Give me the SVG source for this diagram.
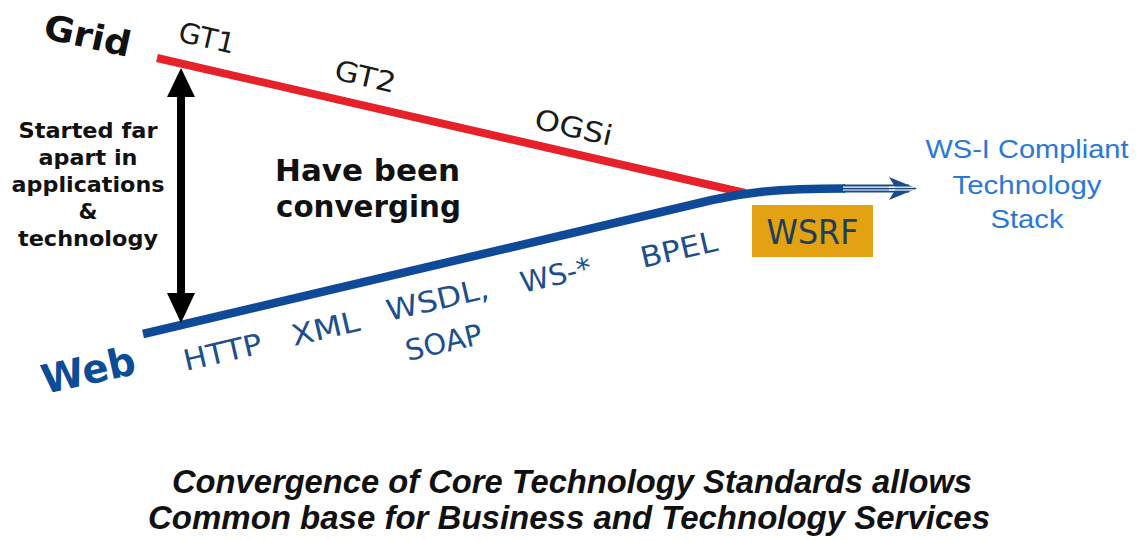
<svg xmlns="http://www.w3.org/2000/svg" width="1141" height="541" viewBox="0 0 1141 541">
  <style>
    .bold { font-family: "DejaVu Sans", Verdana, sans-serif; font-weight: bold; fill: #111; }
    .grid-lbl { font-family: "DejaVu Sans", Verdana, sans-serif; font-size: 28px; fill: #1a1a1a; }
    .web-lbl { font-family: "DejaVu Sans", Verdana, sans-serif; font-size: 29px; fill: #1d4f8c; }
    .stack { font-family: "Liberation Sans", Arial, sans-serif; font-size: 26px; fill: #2a78d6; text-anchor: middle; }
    .caption { font-family: "Liberation Sans", Arial, sans-serif; font-size: 34px; font-weight: bold; font-style: italic; fill: #111; }
  </style>

  <rect width="1141" height="541" fill="#ffffff"/>

  <!-- the two technology tracks and the gap arrow -->
  <g id="connectors">
    <!-- Grid track -->
    <line x1="157" y1="58" x2="745" y2="193" stroke="#e62129" stroke-width="8"/>
    <!-- Web track, bending into the common stack -->
    <path d="M143,334 L712,200 C738,194 770,188.5 845,188.5" fill="none" stroke="#0f4a98" stroke-width="8.5"/>
    <!-- striped arrow toward the stack -->
    <rect x="843" y="184.5" width="66" height="8" fill="#1b4a86"/>
    <line x1="843" y1="187.2" x2="912" y2="187.2" stroke="#ffffff" stroke-width="1.2"/>
    <line x1="843" y1="190" x2="912" y2="190" stroke="#ffffff" stroke-width="1.2"/>
    <polygon points="889,177 917,188.5 889,200 896,188.5" fill="#1b4a86"/>
    <line x1="889" y1="187.2" x2="914" y2="187.2" stroke="#ffffff" stroke-width="1.2"/>
    <line x1="889" y1="190" x2="914" y2="190" stroke="#ffffff" stroke-width="1.2"/>
    <!-- double-headed gap arrow -->
    <rect x="177" y="95" width="8" height="201" fill="#000"/>
    <polygon points="181,68 195,97 167,97" fill="#000"/>
    <polygon points="181,323 195,293 167,293" fill="#000"/>
  </g>

  <g id="grid">
    <text class="bold" font-size="35" transform="translate(42,38) rotate(12.4)" textLength="88" lengthAdjust="spacingAndGlyphs">Grid</text>
  </g>

  <g id="grid-steps">
    <text class="grid-lbl" transform="translate(177,41) rotate(13)" textLength="57" lengthAdjust="spacingAndGlyphs">GT1</text>
    <text class="grid-lbl" transform="translate(333,79) rotate(13)" textLength="62" lengthAdjust="spacingAndGlyphs">GT2</text>
    <text class="grid-lbl" transform="translate(533,128) rotate(13)" textLength="79" lengthAdjust="spacingAndGlyphs">OGSi</text>
  </g>

  <g id="web">
    <text font-family="'DejaVu Sans', Verdana, sans-serif" font-weight="bold" font-size="40" fill="#0b4c97" transform="translate(45,394) rotate(-12.4)" textLength="95" lengthAdjust="spacingAndGlyphs">Web</text>
  </g>

  <g id="web-steps">
    <text class="web-lbl" transform="translate(186,371) rotate(-13)" textLength="80" lengthAdjust="spacingAndGlyphs">HTTP</text>
    <text class="web-lbl" transform="translate(294,346) rotate(-13)" textLength="69" lengthAdjust="spacingAndGlyphs">XML</text>
    <text class="web-lbl" transform="translate(389,321) rotate(-13)" textLength="104" lengthAdjust="spacingAndGlyphs">WSDL,</text>
    <text class="web-lbl" transform="translate(408,361) rotate(-13)" textLength="78" lengthAdjust="spacingAndGlyphs">SOAP</text>
    <text class="web-lbl" transform="translate(523,293) rotate(-13)" textLength="72" lengthAdjust="spacingAndGlyphs">WS-*</text>
    <text class="web-lbl" transform="translate(643,268) rotate(-13)" textLength="78" lengthAdjust="spacingAndGlyphs">BPEL</text>
  </g>

  <g id="wsrf">
    <rect x="752" y="205" width="121" height="52" fill="#e2a212"/>
    <text x="812.5" y="244" font-family="'DejaVu Sans', Verdana, sans-serif" font-size="33" fill="#1f3d5c" text-anchor="middle" textLength="92" lengthAdjust="spacingAndGlyphs">WSRF</text>
  </g>

  <g id="stack">
    <text class="stack" x="1027" y="158" textLength="203" lengthAdjust="spacingAndGlyphs">WS-I Compliant</text>
    <text class="stack" x="1027" y="194" textLength="149" lengthAdjust="spacingAndGlyphs">Technology</text>
    <text class="stack" x="1027" y="228" textLength="73" lengthAdjust="spacingAndGlyphs">Stack</text>
  </g>

  <g id="gap-note" text-anchor="middle">
    <text class="bold" font-size="21" x="88" y="138" textLength="139" lengthAdjust="spacingAndGlyphs">Started far</text>
    <text class="bold" font-size="21" x="88" y="165" textLength="99" lengthAdjust="spacingAndGlyphs">apart in</text>
    <text class="bold" font-size="21" x="88" y="192" textLength="153" lengthAdjust="spacingAndGlyphs">applications</text>
    <text class="bold" font-size="21" x="88" y="219" textLength="19" lengthAdjust="spacingAndGlyphs">&amp;</text>
    <text class="bold" font-size="21" x="88" y="246" textLength="140" lengthAdjust="spacingAndGlyphs">technology</text>
  </g>

  <g id="converging">
    <text class="bold" font-size="30" x="275" y="181" textLength="185" lengthAdjust="spacingAndGlyphs">Have been</text>
    <text class="bold" font-size="30" x="276" y="217" textLength="185" lengthAdjust="spacingAndGlyphs">converging</text>
  </g>

  <g id="caption" text-anchor="middle">
    <text class="caption" x="572" y="493" textLength="800" lengthAdjust="spacingAndGlyphs">Convergence of Core Technology Standards allows</text>
    <text class="caption" x="569" y="529" textLength="842" lengthAdjust="spacingAndGlyphs">Common base for Business and Technology Services</text>
  </g>
</svg>
